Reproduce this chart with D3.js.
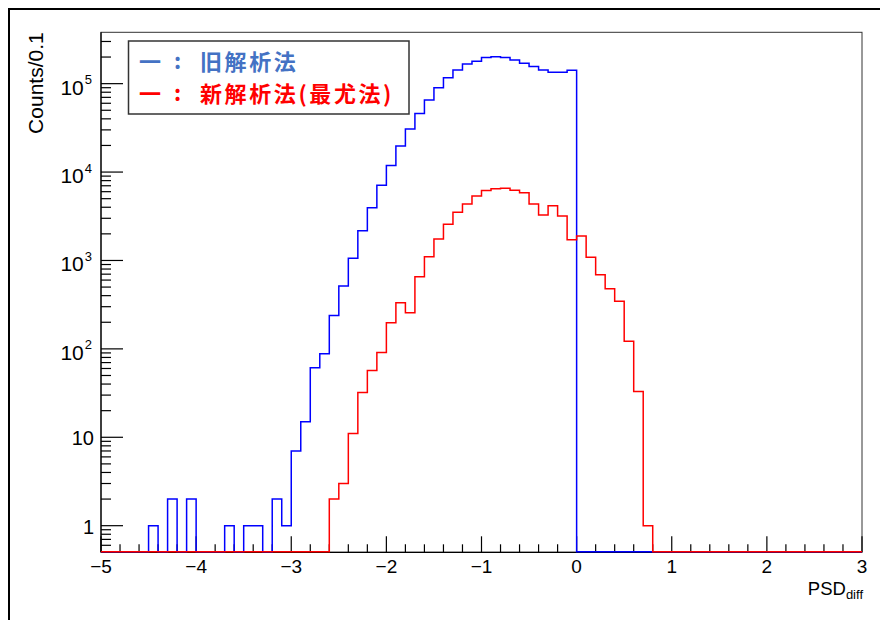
<!DOCTYPE html>
<html><head><meta charset="utf-8">
<script src="https://cdn.jsdelivr.net/npm/d3@7"></script>
<style>body{margin:0;background:#fff;} svg{display:block;}</style>
</head><body><svg id="c" width="880" height="620"></svg>
<script>
// Histogram range and binning
const binLow = -5, binHigh = 3, binWidth = 0.1;
// Counts per 0.1 bin, from -5.0 to 3.0 (80 bins)
const oldCounts = [
  0,0,0,0,0, 1,0,2,0,2,
  0,0,0,1,0, 1,1,0,2,1,
  7,15,61,88,238, 515,1060,2170,3950,7100,
  11900,19700,30700,46000,65400, 90100,117000,143000,167000,179000,
  197000,202000,197000,185000,170000, 156000,143000,135000,135000,142000,
  0,0,0,0,0, 0,0,0,0,0,
  0,0,0,0,0, 0,0,0,0,0,
  0,0,0,0,0, 0,0,0,0,0
];
const newCounts = [
  0,0,0,0,0, 0,0,0,0,0,
  0,0,0,0,0, 0,0,0,0,0,
  0,0,0,0,2, 3,11,32,57,91,
  198,333,257,656,1104, 1750,2570,3510,4350,5370,
  6170,6490,6560,6220,5850, 4350,3270,4170,3190,1720,
  1890,1087,691,480,345, 122,33,1,0,0,
  0,0,0,0,0, 0,0,0,0,0,
  0,0,0,0,0, 0,0,0,0,0
];
const xTickValues = [-5,-4,-3,-2,-1,0,1,2,3];
const yTickValues = [1,10,100,1000,10000,100000];
const yDomain = [0.5, 3.81e5];
const legendNames = ["旧解析法", "新解析法(最尤法)"];
const legendColors = ["#4472c4", "#ff0000"];
const lineColors = ["#0000ff", "#ff0000"];
const xTitle = "PSD", xTitleSub = "diff";
const yTitle = "Counts/0.1";

const svg = d3.select("#c");
const L = 101, R = 862, T = 32.3, B = 552.3;
const x = d3.scaleLinear().domain([binLow, binHigh]).range([L, R]);
const y = d3.scaleLog().domain(yDomain).range([B, T]);
const latin = "'Liberation Sans', Arial, Helvetica, sans-serif";
const cjk = "'Noto Sans CJK JP', 'Noto Sans CJK SC', sans-serif";

// outer border
svg.append("path").attr("d", `M9,640V9H900`).attr("fill","none").attr("stroke","#000").attr("stroke-width",2);

// frame
svg.append("rect").attr("x",L).attr("y",T).attr("width",R-L).attr("height",B-T)
  .attr("fill","none").attr("stroke","#333").attr("stroke-width",1);

// X axis ticks
const gx = svg.append("g");
x.ticks(40).forEach(v => {
  const major = xTickValues.some(t => Math.abs(t - v) < 1e-9);
  gx.append("line").attr("x1",x(v)).attr("x2",x(v)).attr("y1",B).attr("y2",B-(major?16:8))
    .attr("stroke","#000").attr("stroke-width",1.2);
});
xTickValues.forEach(v => {
  gx.append("text").attr("x",x(v)).attr("y",B+21).attr("text-anchor","middle")
    .attr("font-family",latin).attr("font-size",19).attr("fill","#000")
    .text(v < 0 ? "\u2212" + Math.abs(v) : String(v));
});
gx.append("line").attr("x1",L).attr("x2",R).attr("y1",B).attr("y2",B).attr("stroke","#000").attr("stroke-width",1.2);
// X title
const xt = svg.append("text").attr("x",R+1).attr("y",595).attr("text-anchor","end")
  .attr("font-family",latin).attr("font-size",18.5).attr("fill","#000");
xt.append("tspan").text(xTitle);
xt.append("tspan").attr("font-size",13).attr("dy",4).text(xTitleSub);

// Y axis ticks
const gy = svg.append("g");
y.ticks().forEach(v => {
  if (v <= yDomain[0] || v > yDomain[1]) return;
  const major = yTickValues.some(t => Math.abs(t - v) / t < 1e-9);
  gy.append("line").attr("x1",L).attr("x2",L+(major?22:10)).attr("y1",y(v)).attr("y2",y(v))
    .attr("stroke","#000").attr("stroke-width",1.2);
});
yTickValues.forEach(v => {
  const e = Math.round(Math.log10(v));
  if (e <= 1) {
    gy.append("text").attr("x",94).attr("y",y(v)+8).attr("text-anchor","end")
      .attr("font-family",latin).attr("font-size",20).attr("fill","#000").text(String(v));
  } else {
    const t = gy.append("text").attr("x",92).attr("y",y(v)+11).attr("text-anchor","end")
      .attr("font-family",latin).attr("font-size",21).attr("fill","#000");
    t.append("tspan").text("10");
    t.append("tspan").attr("font-size",13).attr("dy",-10.5).attr("dx",1).text(String(e));
  }
});
gy.append("line").attr("x1",L).attr("x2",L).attr("y1",T).attr("y2",B).attr("stroke","#000").attr("stroke-width",1.2);
// Y title
svg.append("text").attr("transform",`translate(43,${T}) rotate(-90)`).attr("text-anchor","end")
  .attr("font-family",latin).attr("font-size",21).attr("fill","#000").text(yTitle);

// histograms
const yv = c => c > 0 ? y(c) : B - 0.5;
function stepPath(counts) {
  let p = `M${x(binLow)},${yv(counts[0])}`;
  counts.forEach((c, i) => {
    p += `H${x(binLow + (i + 1) * binWidth)}`;
    if (i < counts.length - 1) p += `V${yv(counts[i + 1])}`;
  });
  return p;
}
[oldCounts, newCounts].forEach((counts, k) => {
  svg.append("path").attr("d", stepPath(counts)).attr("fill","none")
    .attr("stroke", lineColors[k]).attr("stroke-width",1.5);
});

// legend
const lg = svg.append("g");
lg.append("rect").attr("x",128.5).attr("y",41).attr("width",280.5).attr("height",73)
  .attr("fill","#fff").attr("stroke","#333").attr("stroke-width",1.5);
legendNames.forEach((name, i) => {
  const by = 70 + i * 32;
  const col = legendColors[i];
  const lt = lg.append("text").attr("font-family",cjk).attr("font-weight","bold")
    .attr("font-size",22).attr("fill",col);
  lt.append("tspan").attr("x",139).attr("y",by).attr("letter-spacing",1.5).text("一");
  lt.append("tspan").attr("x",174).attr("y",by-1).text(":");
  lt.append("tspan").attr("x",200).attr("y",by).attr("letter-spacing",2.6).text(name);
});
</script>
</body></html>
